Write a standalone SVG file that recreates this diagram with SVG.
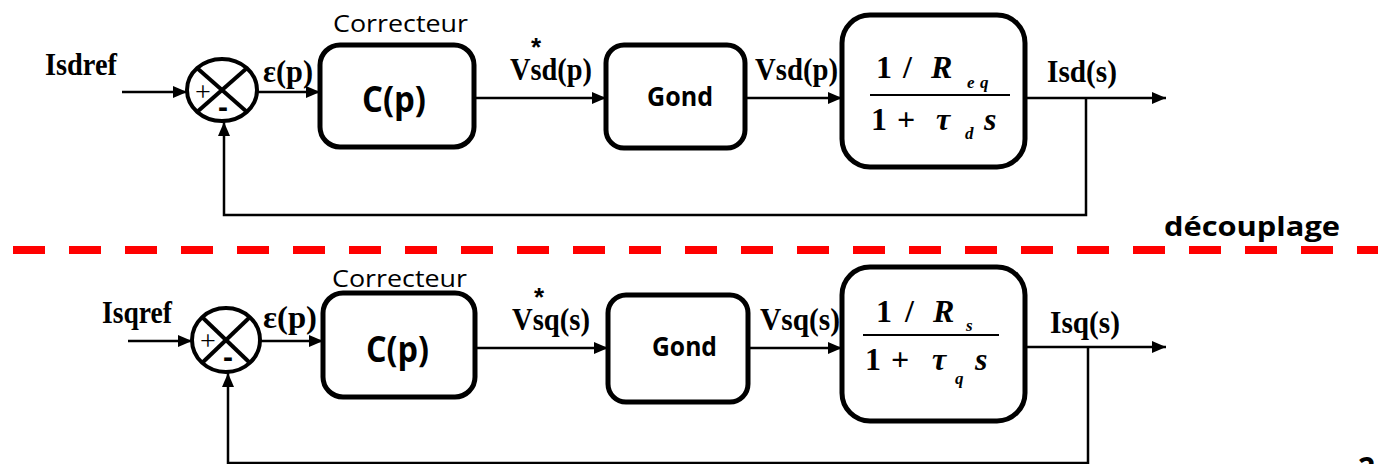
<svg xmlns="http://www.w3.org/2000/svg" width="1378" height="464" viewBox="0 0 1378 464">
<defs>
<marker id="ah" viewBox="0 0 14 12" refX="14" refY="6" markerWidth="14" markerHeight="12" markerUnits="userSpaceOnUse" orient="auto">
<path d="M0,0 L14,6 L0,12 z" fill="#000"/>
</marker>
<style>
.box{fill:#fff;stroke:#000;stroke-width:5}
.sum{fill:#fff;stroke:#000;stroke-width:4}
.diag{stroke:#000;stroke-width:4}
.arr{fill:none;stroke:#000;stroke-width:2.5;marker-end:url(#ah)}
.tb{font-family:"Liberation Serif",serif;font-weight:bold;font-size:32px;fill:#000}
.tm{font-family:"Liberation Serif",serif;font-weight:bold;font-size:32px;fill:#000}
.ti{font-family:"Liberation Serif",serif;font-weight:bold;font-style:italic;font-size:32px;fill:#000}
.sub{font-family:"Liberation Serif",serif;font-weight:bold;font-style:italic;font-size:17px;fill:#000}
.sg{font-family:"Liberation Serif",serif;font-size:28px;fill:#000}
.sb{font-family:"Open Sans","Liberation Sans",sans-serif;font-weight:bold;fill:#000}
.sr{font-family:"Open Sans","Liberation Sans",sans-serif;font-size:23px;fill:#000}
.star{font-family:"Liberation Sans",sans-serif;font-weight:bold;font-size:26px;fill:#000}
.minus{font-family:"Liberation Sans",sans-serif;font-weight:bold;font-size:30px;fill:#000}
</style>
</defs>

<g id="separator">
<line x1="13" y1="250" x2="1378" y2="250" stroke="#ff0000" stroke-width="8" stroke-dasharray="32 24"/>
<text class="sb" x="1164" y="236" font-size="27" textLength="176" lengthAdjust="spacingAndGlyphs">découplage</text>
<text class="sb" x="1358" y="479" font-size="30">2</text>
</g>

<!-- ===== TOP LOOP (d axis) ===== -->
<g id="connectors-top">
<line class="arr" x1="122" y1="92" x2="187" y2="92"/>
<line class="arr" x1="257" y1="92" x2="320" y2="92"/>
<line class="arr" x1="474" y1="98" x2="606" y2="98"/>
<line class="arr" x1="745" y1="98" x2="842" y2="98"/>
<line class="arr" x1="1025" y1="98" x2="1166" y2="98"/>
<polyline class="arr" points="1086,98 1086,215 224,215 224,122"/>
</g>

<g id="label-isdref"><text class="tb" x="45" y="75" textLength="72" lengthAdjust="spacingAndGlyphs">Isdref</text></g>

<g id="sum-top">
<ellipse class="sum" cx="222" cy="90" rx="35" ry="31"/>
<line class="diag" x1="197" y1="68" x2="247" y2="112"/>
<line class="diag" x1="247" y1="68" x2="197" y2="112"/>
<text class="sg" x="203" y="101" text-anchor="middle">+</text>
<text class="minus" x="223" y="117" text-anchor="middle">-</text>
</g>

<g id="label-eps-top"><text class="tb" x="263" y="82" textLength="50" lengthAdjust="spacingAndGlyphs">ε(p)</text></g>

<g id="correcteur-top">
<text class="sr" x="333" y="32" textLength="135" lengthAdjust="spacingAndGlyphs">Correcteur</text>
<rect class="box" x="320" y="45" width="154" height="102" rx="20"/>
<text class="sb" x="362" y="112" font-size="36" textLength="64" lengthAdjust="spacingAndGlyphs">C(p)</text>
</g>

<g id="label-vsdref">
<text class="star" x="536" y="56" text-anchor="middle">*</text>
<text class="tb" x="510" y="80" textLength="82" lengthAdjust="spacingAndGlyphs">Vsd(p)</text>
</g>

<g id="gond-top">
<rect class="box" x="606" y="45" width="139" height="103" rx="18"/>
<text class="sb" x="647" y="106" font-size="27" textLength="66" lengthAdjust="spacingAndGlyphs">Gond</text>
</g>

<g id="label-vsd"><text class="tb" x="755" y="80" textLength="83" lengthAdjust="spacingAndGlyphs">Vsd(p)</text></g>

<g id="plant-top">
<rect class="box" x="842" y="15" width="183" height="152" rx="28"/>
<text class="tm" x="876" y="78">1</text>
<text class="tm" x="903" y="78">/</text>
<text class="ti" x="931" y="78">R</text>
<text class="sub" x="967" y="88">e</text>
<text class="sub" x="980" y="88">q</text>
<line x1="870" y1="95" x2="1010" y2="95" stroke="#000" stroke-width="2"/>
<text class="tm" x="871" y="130">1</text>
<text class="tm" x="897" y="130">+</text>
<text class="ti" x="936" y="130">τ</text>
<text class="sub" x="965" y="139">d</text>
<text class="ti" x="984" y="130">s</text>
</g>

<g id="label-isd"><text class="tb" x="1047" y="82" textLength="70" lengthAdjust="spacingAndGlyphs">Isd(s)</text></g>

<!-- ===== BOTTOM LOOP (q axis) ===== -->
<g id="connectors-bottom">
<line class="arr" x1="128" y1="341" x2="192" y2="341"/>
<line class="arr" x1="260" y1="341" x2="323" y2="341"/>
<line class="arr" x1="475" y1="348" x2="608" y2="348"/>
<line class="arr" x1="748" y1="348" x2="842" y2="348"/>
<line class="arr" x1="1025" y1="347" x2="1166" y2="347"/>
<polyline class="arr" points="1088,347 1088,463 228,463 228,373"/>
</g>

<g id="label-isqref"><text class="tb" x="102" y="323" textLength="70" lengthAdjust="spacingAndGlyphs">Isqref</text></g>

<g id="sum-bottom">
<ellipse class="sum" cx="226" cy="340" rx="34" ry="32"/>
<line class="diag" x1="202" y1="317" x2="250" y2="363"/>
<line class="diag" x1="250" y1="317" x2="202" y2="363"/>
<text class="sg" x="208" y="350" text-anchor="middle">+</text>
<text class="minus" x="228" y="367" text-anchor="middle">-</text>
</g>

<g id="label-eps-bottom"><text class="tb" x="263" y="328" textLength="54" lengthAdjust="spacingAndGlyphs">ε(p)</text></g>

<g id="correcteur-bottom">
<text class="sr" x="332" y="287" textLength="135" lengthAdjust="spacingAndGlyphs">Correcteur</text>
<rect class="box" x="323" y="293" width="152" height="104" rx="20"/>
<text class="sb" x="366" y="362" font-size="36" textLength="63" lengthAdjust="spacingAndGlyphs">C(p)</text>
</g>

<g id="label-vsqref">
<text class="star" x="539" y="306" text-anchor="middle">*</text>
<text class="tb" x="512" y="330" textLength="78" lengthAdjust="spacingAndGlyphs">Vsq(s)</text>
</g>

<g id="gond-bottom">
<rect class="box" x="608" y="295" width="140" height="107" rx="18"/>
<text class="sb" x="652" y="356" font-size="27" textLength="65" lengthAdjust="spacingAndGlyphs">Gond</text>
</g>

<g id="label-vsq"><text class="tb" x="760" y="330" textLength="80" lengthAdjust="spacingAndGlyphs">Vsq(s)</text></g>

<g id="plant-bottom">
<rect class="box" x="842" y="267" width="183" height="154" rx="28"/>
<text class="tm" x="876" y="322">1</text>
<text class="tm" x="905" y="322">/</text>
<text class="ti" x="933" y="322">R</text>
<text class="sub" x="966" y="331">s</text>
<line x1="863" y1="335" x2="999" y2="335" stroke="#000" stroke-width="2"/>
<text class="tm" x="865" y="370">1</text>
<text class="tm" x="891" y="370">+</text>
<text class="ti" x="932" y="370">τ</text>
<text class="sub" x="955" y="384">q</text>
<text class="ti" x="975" y="370">s</text>
</g>

<g id="label-isq"><text class="tb" x="1050" y="333" textLength="70" lengthAdjust="spacingAndGlyphs">Isq(s)</text></g>
</svg>
